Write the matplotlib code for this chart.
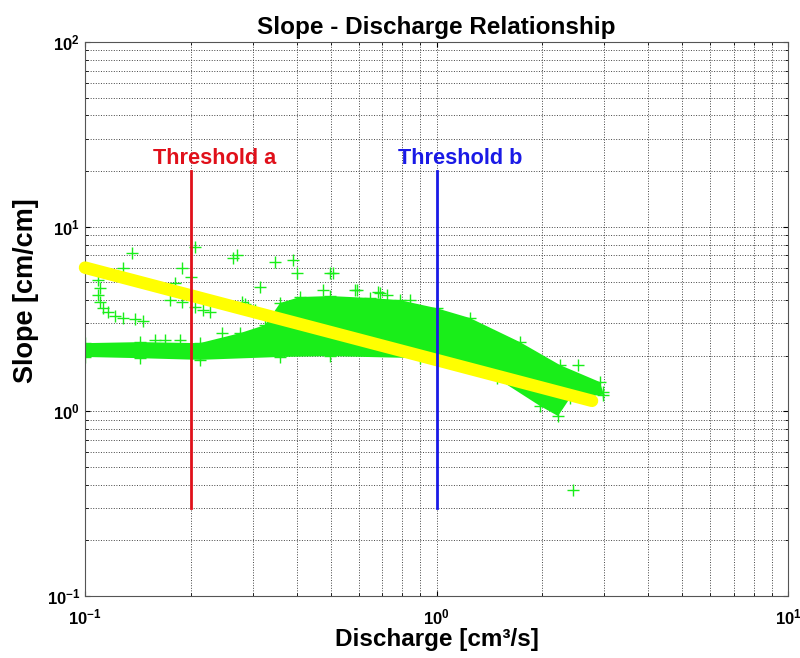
import matplotlib
matplotlib.use('Agg')
from matplotlib import pyplot as plt

# outline of the dense cloud of measurements (discharge, slope)
band_q = [0.100, 0.143, 0.212, 0.276, 0.325, 0.359, 0.409, 0.498, 0.647, 0.787, 1.000,
          1.245, 1.728, 2.246, 2.918, 2.977,
          2.977, 2.398, 2.217, 1.970, 1.486, 1.000, 0.898, 0.498, 0.359, 0.212, 0.143, 0.100]
band_s = [2.34, 2.37, 2.34, 2.65, 2.93, 3.86, 4.16, 4.21, 4.11, 4.00, 3.62,
          3.20, 2.37, 1.78, 1.44, 1.27,
          1.23, 1.18, 0.943, 1.07, 1.51, 1.90, 1.94, 1.99, 1.97, 1.90, 1.94, 1.97]

# scattered measurements outside the dense cloud
pts_q = [0.1089, 0.1103, 0.1089, 0.1103, 0.1125, 0.1163, 0.1217, 0.1283, 0.1388, 0.1462,
         0.1361, 0.1283, 0.1888, 0.1803, 0.2002, 0.2055, 0.1745, 0.1888, 0.2055, 0.2166,
         0.2268, 0.2637, 0.2707, 0.2797, 0.2850, 0.2909, 0.3045, 0.3147, 0.1582, 0.1689,
         0.1863, 0.2453, 0.3471, 0.3906, 0.4010, 0.4977, 0.4755, 0.5941, 0.6818, 0.7232,
         0.8407, 0.5076, 0.5863, 0.6908, 2.527, 2.445]
pts_s = [5.14, 4.65, 4.26, 3.91, 3.62, 3.45, 3.28, 3.20, 3.16, 3.08,
         7.20, 5.97, 5.97, 4.95, 5.34, 7.76, 4.00, 3.91, 3.67, 3.54,
         3.45, 6.76, 7.02, 3.91, 3.80, 3.67, 3.54, 4.71, 2.43, 2.43,
         2.43, 2.65, 6.43, 6.60, 5.61, 5.61, 4.54, 4.54, 4.43, 4.26,
         4.00, 5.61, 4.54, 4.37, 1.78, 0.375]

# power-law fit
fit_q = [0.1, 2.77]
fit_s = [6.0, 1.14]

thresholds = [0.2, 1.0]
threshold_names = ['Threshold a', 'Threshold b']
threshold_colors = ['#e0101a', '#1a1ae6']
threshold_label_q = [0.156, 0.777]
threshold_span = [0.3, 20.0]
label_s = 23.5

plt.rcParams['font.family'] = ['Liberation Sans', 'DejaVu Sans']
plt.rcParams['font.weight'] = 'bold'
plt.rcParams['mathtext.fontset'] = 'custom'
plt.rcParams['mathtext.rm'] = 'Liberation Sans:bold'
plt.rcParams['mathtext.it'] = 'Liberation Sans:bold'
plt.rcParams['mathtext.bf'] = 'Liberation Sans:bold'
plt.rcParams['axes.unicode_minus'] = False

fig = plt.figure(figsize=(8, 6.58), dpi=100)
ax = fig.add_axes([0.10625, 0.0942, 0.87875, 0.842])

green = '#19ee19'
ax.fill(band_q, band_s, color=green, lw=0, zorder=2)
ax.plot(band_q, band_s, '+', color=green, ms=8, mew=1, zorder=2)
ax.plot(pts_q, pts_s, '+', color=green, ms=8, mew=1, zorder=2)

ax.plot(fit_q, fit_s, color='#ffff00', lw=9, solid_capstyle='round', clip_on=False, zorder=3)

for q, name, c, lq in zip(thresholds, threshold_names, threshold_colors, threshold_label_q):
    ax.plot([q, q], threshold_span, color=c, lw=2, zorder=4)
    ax.text(lq, label_s, name, color=c, fontsize=15.7, fontweight='bold', ha='left', va='center')

ax.set_xscale('log')
ax.set_yscale('log')
ax.set_xlim(0.1, 10)
ax.set_ylim(0.1, 100)

ax.grid(True, which='both', color='#444444', ls=':', lw=0.7)
ax.tick_params(which='both', direction='in', top=True, right=True, labelsize=12)
ax.tick_params(axis='x', which='both', pad=8)
for sp in ax.spines.values():
    sp.set_color('#555555')

ax.set_title('Slope - Discharge Relationship', fontsize=17.5, fontweight='bold', pad=6)
ax.set_xlabel('Discharge [cm³/s]', fontsize=17.5, fontweight='bold', labelpad=0.5)
ax.set_ylabel('Slope [cm/cm]', fontsize=19.5, fontweight='bold')
ax.yaxis.set_label_coords(-0.065, 0.552)

fig.savefig('out.png', dpi=100)
